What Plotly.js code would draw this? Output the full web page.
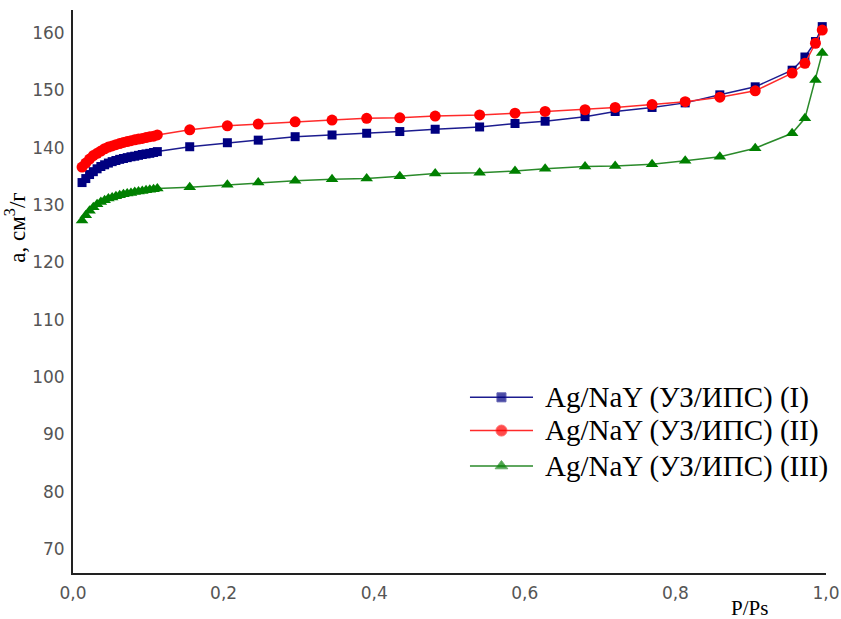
<!DOCTYPE html>
<html>
<head>
<meta charset="utf-8">
<script src="https://cdn.plot.ly/plotly-3.0.1.min.js"></script>
<style>html,body{margin:0;padding:0;background:#fff;}#chart{width:841px;height:619px;}</style>
</head>
<body>
<div id="chart"></div>
<script>
// Relative pressure P/Ps
const pressure = [
  0.012, 0.017, 0.022, 0.027, 0.032, 0.037, 0.042, 0.047, 0.052, 0.057, 0.062,
  0.067, 0.072, 0.077, 0.082, 0.087, 0.092, 0.097, 0.102, 0.107, 0.112,
  0.155, 0.205, 0.246, 0.295, 0.344, 0.390, 0.434, 0.481, 0.540, 0.587, 0.627,
  0.680, 0.720, 0.769, 0.813, 0.859, 0.906, 0.955, 0.972, 0.986, 0.995
];
// Adsorption a, cm3/g
const seriesI = [
  133.9, 134.6, 135.3, 135.8, 136.3, 136.7, 137.0, 137.3, 137.55, 137.75, 137.95,
  138.1, 138.25, 138.4, 138.5, 138.65, 138.8, 138.9, 139.0, 139.15, 139.3,
  140.15, 140.85, 141.3, 141.9, 142.2, 142.5, 142.8, 143.2, 143.6, 144.2, 144.6,
  145.4, 146.3, 147.0, 147.8, 149.2, 150.6, 153.5, 155.8, 158.5, 161.1
];
const seriesII = [
  136.6, 137.3, 138.0, 138.6, 139.0, 139.4, 139.8, 140.1, 140.3, 140.5, 140.7,
  140.9, 141.05, 141.2, 141.35, 141.5, 141.6, 141.75, 141.9, 142.0, 142.2,
  143.1, 143.8, 144.1, 144.5, 144.8, 145.1, 145.2, 145.5, 145.7, 146.0, 146.3,
  146.6, 147.0, 147.5, 148.0, 148.8, 149.9, 153.0, 154.7, 158.2, 160.5
];
const seriesIII = [
  127.3, 128.2, 129.0, 129.6, 130.1, 130.5, 130.8, 131.1, 131.3, 131.5, 131.7,
  131.85, 132.0, 132.1, 132.25, 132.35, 132.45, 132.55, 132.65, 132.75, 132.85,
  133.1, 133.5, 133.9, 134.2, 134.5, 134.6, 135.0, 135.5, 135.6, 135.9, 136.3,
  136.7, 136.8, 137.1, 137.7, 138.4, 139.9, 142.5, 145.1, 151.8, 156.5
];
const seriesNames = ['Ag/NaY (УЗ/ИПС) (I)', 'Ag/NaY (УЗ/ИПС) (II)', 'Ag/NaY (УЗ/ИПС) (III)'];
const xTickVals = [0, 0.2, 0.4, 0.6, 0.8, 1.0];
const xTickText = ['0,0', '0,2', '0,4', '0,6', '0,8', '1,0'];
const yTickVals = [70, 80, 90, 100, 110, 120, 130, 140, 150, 160];

const styles = [
  {line: '#1c1c8f', marker: '#000080', symbol: 'square', size: 9},
  {line: '#ff2a2a', marker: '#ff0000', symbol: 'circle', size: 11},
  {line: '#2a8a2a', marker: '#008000', symbol: 'triangle-up', size: 11}
];
const allSeries = [seriesI, seriesII, seriesIII];
const order = [2, 0, 1];
const legendRows = [0.312, 0.253, 0.19];

const traces = [];
order.forEach(i => {
  traces.push({
    x: pressure, y: allSeries[i], type: 'scatter', mode: 'lines+markers',
    name: seriesNames[i], showlegend: false, cliponaxis: false,
    line: {color: styles[i].line, width: 1.5},
    marker: {color: styles[i].marker, symbol: styles[i].symbol, size: styles[i].size}
  });
});
// legend samples on a hidden helper subplot
[0, 1, 2].forEach(i => {
  traces.push({
    x: [0, 0.5, 1], y: [legendRows[i], legendRows[i], legendRows[i]],
    xaxis: 'x2', yaxis: 'y2', type: 'scatter', mode: 'lines+markers',
    showlegend: false, hoverinfo: 'skip', cliponaxis: false,
    line: {color: styles[i].line, width: 1.5},
    marker: {color: styles[i].marker, symbol: styles[i].symbol, size: [0, styles[i].size, 0]}
  });
});

const serif = 'Liberation Serif, Times New Roman, serif';
const tickFont = {family: 'DejaVu Sans', size: 17, color: '#555'};
const annotations = [0, 1, 2].map(i => ({
  xref: 'paper', yref: 'paper', x: 0.624, y: legendRows[i], xanchor: 'left', yanchor: 'middle',
  text: seriesNames[i], showarrow: false,
  font: {family: serif, size: 29, color: '#000'}
}));
annotations.push({
  xref: 'paper', yref: 'paper', x: -0.076, y: 0.613, xanchor: 'center', yanchor: 'middle',
  text: 'а, см<sup>3</sup>/г', textangle: -90, showarrow: false,
  font: {family: serif, size: 23, color: '#000'}
});
annotations.push({
  xref: 'paper', yref: 'paper', x: 0.899, y: -0.062, xanchor: 'center', yanchor: 'middle',
  text: 'P/Ps', showarrow: false,
  font: {family: serif, size: 21, color: '#000'}
});

const layout = {
  width: 841, height: 619,
  margin: {l: 73, r: 15, t: 10, b: 46},
  paper_bgcolor: '#fff', plot_bgcolor: 'rgba(0,0,0,0)',
  showlegend: false,
  xaxis: {
    range: [0, 1], domain: [0, 1], anchor: 'y',
    showline: true, linecolor: '#222', linewidth: 2, mirror: false,
    showgrid: false, zeroline: false, ticks: '',
    tickvals: xTickVals, ticktext: xTickText, tickfont: tickFont, ticklabelstandoff: 4
  },
  yaxis: {
    range: [65.8, 164], domain: [0, 1], anchor: 'x',
    showline: true, linecolor: '#222', linewidth: 2, mirror: false,
    showgrid: false, zeroline: false, ticks: '',
    tickvals: yTickVals, tickfont: tickFont, ticklabelstandoff: 3
  },
  xaxis2: {domain: [0.527, 0.611], range: [0, 1], anchor: 'y2', visible: false, fixedrange: true},
  yaxis2: {domain: [0, 1], range: [0, 1], anchor: 'x2', visible: false, fixedrange: true},
  annotations: annotations
};

Plotly.newPlot('chart', traces, layout, {displayModeBar: false, staticPlot: true});
</script>
</body>
</html>
